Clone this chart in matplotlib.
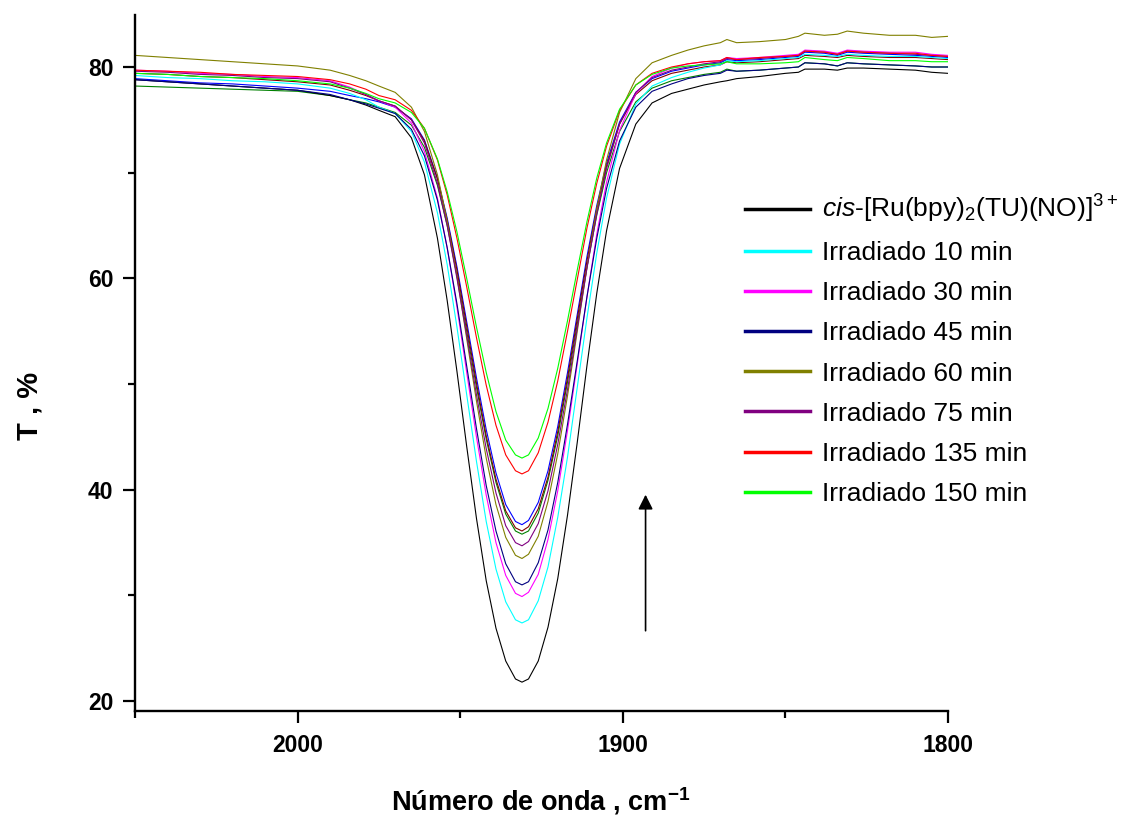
import matplotlib
matplotlib.use('Agg')
import matplotlib.pyplot as plt

plt.rcParams['font.family'] = ['Liberation Sans', 'DejaVu Sans']
plt.rcParams['mathtext.fontset'] = 'custom'
plt.rcParams['mathtext.rm'] = 'Liberation Sans'
plt.rcParams['mathtext.it'] = 'Liberation Sans:italic'
plt.rcParams['mathtext.bf'] = 'Liberation Sans:bold'

# wavenumber grid (cm-1)
wn = [2050, 2040, 2030, 2020, 2010, 2000, 1990, 1984, 1979,
      1975, 1970, 1965, 1961, 1957, 1954, 1951, 1948, 1945, 1942, 1939, 1936, 1933, 1931,
      1929, 1926, 1923, 1920, 1917, 1914, 1911, 1908, 1905, 1901, 1896, 1891, 1885,
      1880, 1875, 1870, 1868, 1865, 1858, 1850, 1846, 1844, 1838, 1834, 1831, 1826, 1818,
      1810, 1805, 1800]

t_cis = [78.8, 78.6, 78.4, 78.2, 78.0, 77.8, 77.3, 76.9, 76.4,
         75.9, 75.3, 73.3, 69.8, 63.8, 57.9, 51.2, 44.1, 37.3, 31.4, 26.9, 23.8, 22.1, 21.8,
         22.1, 23.8, 27.0, 31.6, 37.6, 44.5, 51.8, 58.6, 64.5, 70.4, 74.6, 76.6, 77.5,
         77.9, 78.3, 78.6, 78.7, 78.9, 79.1, 79.4, 79.5, 79.8, 79.8, 79.7, 79.9, 79.9, 79.8,
         79.7, 79.5, 79.4]
t_10 = [79.2, 79.0, 78.9, 78.7, 78.6, 78.4, 78.0, 77.5, 76.9,
        76.2, 75.6, 73.9, 71.0, 66.2, 61.3, 55.4, 49.0, 42.7, 37.0, 32.5, 29.4, 27.7, 27.4,
        27.7, 29.5, 32.7, 37.4, 43.1, 49.7, 56.3, 62.4, 67.6, 72.7, 76.5, 78.2, 79.0,
        79.5, 79.9, 80.2, 80.6, 80.5, 80.6, 80.8, 80.9, 81.2, 81.1, 81.0, 81.2, 81.1, 81.0,
        81.0, 80.9, 80.8]
t_30 = [79.7, 79.6, 79.4, 79.3, 79.1, 79.0, 78.7, 78.1, 77.4,
        76.8, 76.2, 74.7, 72.0, 67.6, 62.9, 57.3, 51.1, 45.0, 39.5, 35.0, 31.9, 30.2, 29.9,
        30.3, 32.0, 35.3, 39.9, 45.6, 51.9, 58.3, 64.2, 69.1, 74.0, 77.5, 79.1, 79.9,
        80.3, 80.5, 80.6, 80.9, 80.8, 80.9, 81.1, 81.2, 81.6, 81.5, 81.3, 81.6, 81.5, 81.4,
        81.4, 81.2, 81.1]
t_45 = [78.8, 78.6, 78.4, 78.2, 78.0, 77.8, 77.4, 76.9, 76.5,
        76.1, 75.6, 74.1, 71.6, 67.4, 62.9, 57.6, 51.7, 45.8, 40.4, 36.1, 33.0, 31.3, 31.0,
        31.3, 33.1, 36.2, 40.7, 46.2, 52.2, 58.3, 63.8, 68.5, 73.0, 76.2, 77.7, 78.4,
        78.9, 79.2, 79.4, 79.7, 79.6, 79.7, 79.9, 80.0, 80.4, 80.3, 80.1, 80.4, 80.3, 80.2,
        80.1, 80.0, 80.0]
t_60 = [81.1, 80.9, 80.7, 80.5, 80.3, 80.1, 79.7, 79.2, 78.7,
        78.2, 77.6, 76.2, 73.9, 69.8, 65.4, 60.2, 54.3, 48.4, 43.0, 38.6, 35.5, 33.8, 33.5,
        33.9, 35.6, 38.9, 43.4, 48.9, 55.0, 61.1, 66.6, 71.2, 75.7, 78.9, 80.4, 81.1,
        81.6, 82.0, 82.3, 82.6, 82.3, 82.4, 82.6, 82.9, 83.2, 83.0, 83.1, 83.4, 83.2, 83.0,
        83.0, 82.8, 82.9]
t_75 = [79.6, 79.5, 79.3, 79.2, 79.0, 78.9, 78.6, 78.0, 77.4,
        76.8, 76.3, 75.0, 72.8, 69.0, 65.0, 60.0, 54.6, 49.0, 43.9, 39.7, 36.6, 35.0, 34.7,
        35.1, 36.8, 39.9, 44.3, 49.5, 55.3, 61.0, 66.1, 70.4, 74.6, 77.6, 79.0, 79.7,
        80.0, 80.3, 80.5, 80.8, 80.7, 80.8, 81.0, 81.1, 81.5, 81.4, 81.2, 81.5, 81.4, 81.3,
        81.2, 81.1, 81.0]
t_135 = [79.7, 79.6, 79.5, 79.3, 79.2, 79.1, 78.8, 78.4, 77.9,
         77.3, 76.9, 75.9, 74.2, 71.2, 67.9, 63.8, 59.2, 54.4, 49.9, 46.1, 43.3, 41.8, 41.5,
         41.8, 43.5, 46.4, 50.3, 55.0, 59.9, 64.8, 69.0, 72.5, 75.9, 78.3, 79.4, 80.0,
         80.3, 80.5, 80.6, 80.9, 80.7, 80.9, 81.0, 81.1, 81.5, 81.4, 81.2, 81.5, 81.4, 81.3,
         81.3, 81.1, 81.0]
t_150 = [79.4, 79.3, 79.1, 79.0, 78.9, 78.7, 78.4, 78.0, 77.5,
         77.0, 76.6, 75.7, 74.2, 71.3, 68.2, 64.4, 60.0, 55.4, 51.1, 47.4, 44.7, 43.3, 43.0,
         43.3, 44.9, 47.7, 51.5, 56.0, 60.8, 65.4, 69.5, 72.8, 76.0, 78.3, 79.3, 79.9,
         80.1, 80.2, 80.3, 80.5, 80.3, 80.3, 80.4, 80.5, 80.9, 80.7, 80.6, 80.9, 80.8, 80.6,
         80.6, 80.5, 80.5]
# curves drawn without a legend entry
t_blue = [78.9, 78.7, 78.5, 78.4, 78.2, 78.0, 77.7, 77.3, 77.0,
          76.7, 76.2, 75.1, 73.1, 69.5, 65.7, 61.1, 55.9, 50.6, 45.7, 41.6, 38.6, 37.0, 36.7,
          37.1, 38.8, 41.8, 46.0, 51.1, 56.6, 62.1, 66.9, 70.9, 74.8, 77.6, 78.9, 79.6,
          79.9, 80.2, 80.4, 80.7, 80.6, 80.7, 80.9, 81.0, 81.4, 81.3, 81.1, 81.4, 81.3, 81.2,
          81.1, 81.0, 80.9]
t_dkgreen = [78.2, 78.1, 78.0, 77.9, 77.8, 77.7, 77.3, 76.9, 76.6,
             76.2, 75.7, 74.5, 72.4, 68.8, 65.0, 60.3, 55.0, 49.7, 44.8, 40.7, 37.7, 36.1, 35.8,
             36.1, 37.8, 40.9, 45.1, 50.2, 55.7, 61.1, 66.0, 70.0, 73.9, 76.7, 78.0, 78.7,
             79.0, 79.3, 79.5, 79.8, 79.6, 79.7, 79.9, 80.0, 80.4, 80.3, 80.1, 80.4, 80.3, 80.2,
             80.1, 80.0, 80.0]
t_brown = [79.4, 79.3, 79.1, 79.0, 78.8, 78.6, 78.3, 77.8, 77.3,
           76.8, 76.3, 75.0, 73.0, 69.4, 65.5, 60.8, 55.5, 50.1, 45.1, 41.0, 38.0, 36.4, 36.1,
           36.5, 38.2, 41.2, 45.5, 50.6, 56.2, 61.7, 66.6, 70.6, 74.6, 77.4, 78.7, 79.4,
           79.7, 80.0, 80.2, 80.5, 80.4, 80.5, 80.7, 80.8, 81.1, 81.0, 80.9, 81.1, 81.0, 80.9,
           80.9, 80.8, 80.7]

labels = [r'$\mathit{cis}$-[Ru(bpy)$_2$(TU)(NO)]$^{3+}$',
          'Irradiado 10 min', 'Irradiado 30 min', 'Irradiado 45 min',
          'Irradiado 60 min', 'Irradiado 75 min', 'Irradiado 135 min',
          'Irradiado 150 min']

fig = plt.figure(figsize=(11.42, 8.22), dpi=100)
ax = fig.add_axes([135 / 1142, 1 - 711 / 822, 813 / 1142, 696 / 822])

# unlabelled traces first
ax.plot(wn, t_blue, color='#0000ff', lw=0.8)
ax.plot(wn, t_dkgreen, color='#008000', lw=0.8)
ax.plot(wn, t_brown, color='#800000', lw=0.8)

handles = []
for y, c, lab in zip([t_cis, t_10, t_30, t_45, t_60, t_75, t_135, t_150],
                     ['#000000', '#00ffff', '#ff00ff', '#000080',
                      '#808000', '#800080', '#ff0000', '#00ff00'],
                     labels):
    ln, = ax.plot(wn, y, color=c, lw=0.8, label=lab)
    handles.append(ln)

# arrow showing the trend with irradiation time
ax.annotate('', xy=(1893, 39.8), xytext=(1893, 26.4),
            arrowprops=dict(arrowstyle='-|>', color='k', lw=1.2, mutation_scale=22))

ax.set_xlim(2050, 1800)
ax.set_ylim(19.07, 84.92)
ax.set_xticks([2000, 1900, 1800])
ax.set_xticks([2050, 1950, 1850], minor=True)
ax.set_yticks([20, 40, 60, 80])
ax.set_yticks([30, 50, 70], minor=True)

for s in ['top', 'right']:
    ax.spines[s].set_visible(False)
for s in ['left', 'bottom']:
    ax.spines[s].set_linewidth(1.7)

ax.tick_params(which='major', direction='out', length=8.6, width=1.6, labelsize=16.5)
ax.tick_params(which='minor', direction='out', length=5, width=1.6)
ax.tick_params(axis='y', which='major', pad=7)
ax.tick_params(axis='x', which='major', pad=8)
for lbl in ax.get_xticklabels() + ax.get_yticklabels():
    lbl.set_fontweight('bold')

leg = ax.legend(handles=handles, loc='upper left',
                bbox_to_anchor=(745 / 1142, 1 - 193 / 822), bbox_transform=fig.transFigure,
                frameon=False, fontsize=19, handlelength=2.45, handletextpad=0.45,
                labelspacing=0.61, borderpad=0, borderaxespad=0)
for h in leg.legend_handles:
    h.set_linewidth(2.5)

fig.text(541 / 1142, 1 - 801 / 822, r'Número de onda , cm$^{\mathbf{-1}}$',
         ha='center', va='center', fontsize=19.5, fontweight='bold')
fig.text(30 / 1142, 1 - 406 / 822, 'T , %', rotation=90,
         ha='center', va='center', fontsize=21, fontweight='bold')

fig.savefig('out.png', dpi=100)
